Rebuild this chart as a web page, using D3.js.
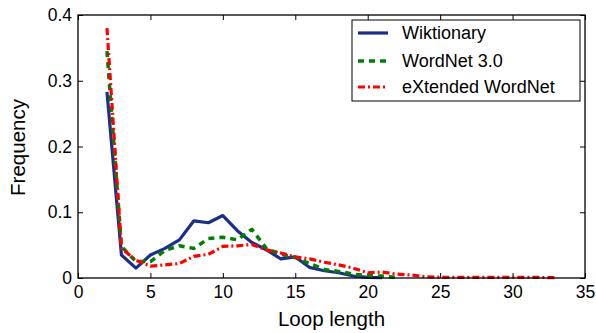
<!DOCTYPE html>
<html><head><meta charset="utf-8">
<script src="https://cdn.jsdelivr.net/npm/d3@7"></script>
<style>body{margin:0;background:#fff}svg{display:block}text{font-family:"Liberation Sans",Arial,sans-serif;fill:#000}</style>
</head><body><svg id="c" width="596" height="333"></svg>
<script>
const xTicks = [0,5,10,15,20,25,30,35];
const yTicks = [0,0.1,0.2,0.3,0.4];
const seriesNames = ["Wiktionary","WordNet 3.0","eXtended WordNet"];
const wiktX = [2,3,4,5,6,7,8,9,10,11,12,13,14,15,16,17,18,19,20,21];
const wiktY = [0.283,0.035,0.015,0.035,0.045,0.058,0.087,0.084,0.095,0.072,0.054,0.043,0.029,0.032,0.016,0.011,0.008,0.003,0.001,0.0005];
const wnX = [2,3,4,5,6,7,8,9,10,11,12,13,14,15,16,17,18,19,20,21,22];
const wnY = [0.345,0.048,0.025,0.025,0.042,0.049,0.045,0.060,0.062,0.058,0.074,0.045,0.036,0.031,0.022,0.013,0.010,0.006,0.0035,0.003,0.001];
const xwnX = [2,3,4,5,6,7,8,9,10,11,12,13,14,15,16,17,18,19,20,21,22,23,24,25,26,27,28,29,30,31,32,33];
const xwnY = [0.38,0.045,0.027,0.018,0.02,0.022,0.033,0.036,0.048,0.049,0.051,0.043,0.038,0.032,0.029,0.024,0.020,0.015,0.008,0.009,0.006,0.0045,0.002,0.001,0.001,0.001,0.001,0.001,0.001,0.001,0.0008,0.0005];

const svg = d3.select("#c");
const L=78,R=585,T=15,B=278;
const x = d3.scaleLinear().domain([0,35]).range([L,R]);
const y = d3.scaleLinear().domain([0,0.4]).range([B,T]);
const fs = "17.5px";

const g = svg.append("g");
const ax = [
  [d3.axisBottom(x).tickValues(xTicks).tickSize(-5).tickPadding(8).tickFormat(d3.format("d")), `translate(0,${B})`],
  [d3.axisTop(x).tickValues(xTicks).tickSize(-5).tickFormat(""), `translate(0,${T})`],
  [d3.axisLeft(y).tickValues(yTicks).tickSize(-5).tickPadding(6).tickFormat(d=>d===0?"0":d3.format(".1f")(d)), `translate(${L},0)`],
  [d3.axisRight(y).tickValues(yTicks).tickSize(-5).tickFormat(""), `translate(${R},0)`]
];
ax.forEach(([a,t])=>{
  const s=g.append("g").attr("transform",t).call(a);
  s.select(".domain").remove();
  s.selectAll("line").attr("stroke","#000").attr("stroke-width",1);
  s.selectAll("text").style("font-size",fs).style("font-family",'"Liberation Sans",Arial,sans-serif').attr("fill","#000");
});

const line = d3.line().x(d=>x(d[0])).y(d=>y(d[1]));
const series = [
  {xs:wiktX, ys:wiktY, color:"#1c2e8c", dash:null, w:3.2},
  {xs:wnX, ys:wnY, color:"#008000", dash:"6,5", w:3.5},
  {xs:xwnX, ys:xwnY, color:"#ff0000", dash:"7,3,2,3", w:3.2}
];
series.forEach(s=>{
  svg.append("path").datum(s.xs.map((v,i)=>[v,s.ys[i]]))
    .attr("d",line).attr("fill","none").attr("stroke",s.color)
    .attr("stroke-width",s.w).attr("stroke-dasharray",s.dash)
    .attr("stroke-linejoin","round");
});

svg.append("rect").attr("x",L).attr("y",T).attr("width",R-L).attr("height",B-T)
  .attr("fill","none").attr("stroke","#000").attr("stroke-width",1.3);

svg.append("text").attr("x",(L+R)/2).attr("y",326).attr("text-anchor","middle").style("font-size","20.5px").text("Loop length");
svg.append("text").attr("transform",`translate(25,${(T+B)/2+1}) rotate(-90)`).attr("text-anchor","middle").style("font-size","20.5px").text("Frequency");

const lg = svg.append("g");
lg.append("rect").attr("x",352).attr("y",20).attr("width",228).attr("height",81)
  .attr("fill","#fff").attr("stroke","#000").attr("stroke-width",1);
const rows=[33,61,87];
series.forEach((s,i)=>{
  lg.append("line").attr("x1",358).attr("x2",388).attr("y1",rows[i]).attr("y2",rows[i])
    .attr("stroke",s.color).attr("stroke-width",s.w).attr("stroke-dasharray",s.dash);
  lg.append("text").attr("x",402).attr("y",rows[i]+6).style("font-size","18px").text(seriesNames[i]);
});
</script></body></html>
